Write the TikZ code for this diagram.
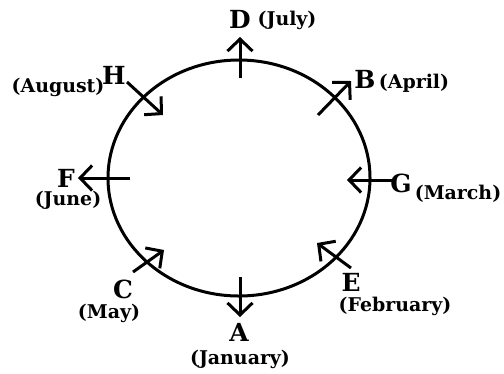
\documentclass[tikz,border=0pt]{standalone}
\usepackage{fontspec}
\setmainfont{DejaVu Serif}
\usetikzlibrary{arrows.meta,shapes.geometric}

\begin{document}
\begin{tikzpicture}[x=1bp, y=-1bp, line width=3bp,
    >={Straight Barb[length=12bp, width=25bp]},
    person/.style={inner sep=0pt,
                   font=\fontsize{25}{25}\selectfont\bfseries},
    month/.style={inner sep=0pt,
                  font=\fontsize{19}{20}\selectfont\bfseries}]

  \useasboundingbox (0,0) rectangle (504,373);

  %% Circle
  \node[draw, ellipse, inner sep=0pt, line width=3bp,
        minimum width=262bp, minimum height=236bp] (ring) at (239,178) {};

  %% Arrow ends
  \coordinate (d0) at (240,78);  \coordinate (d1) at (240,37);
  \coordinate (h0) at (127,82);  \coordinate (h1) at (163,115);
  \coordinate (b0) at (318,115); \coordinate (b1) at (351,81);
  \coordinate (g0) at (396,180); \coordinate (g1) at (347,180);
  \coordinate (f0) at (130,178); \coordinate (f1) at (78,178);
  \coordinate (c0) at (133,272); \coordinate (c1) at (164,250);
  \coordinate (a0) at (240,277); \coordinate (a1) at (240,317);
  \coordinate (e0) at (351,268); \coordinate (e1) at (317,243);

  %% Arrows
  \draw[->] (d0) -- (d1);
  \draw[->] (h0) -- (h1);
  \draw[->] (b0) -- (b1);
  \draw[->] (g0) -- (g1);
  \draw[->] (f0) -- (f1);
  \draw[->] (c0) -- (c1);
  \draw[->] (a0) -- (a1);
  \draw[->] (e0) -- (e1);

  %% Persons
  \node[person] (pD) at (240,19)  {D};
  \node[person] (pH) at (114,75)  {H};
  \node[person] (pB) at (365,79)  {B};
  \node[person] (pG) at (401,183) {G};
  \node[person] (pF) at (66,178)  {F};
  \node[person] (pC) at (123,289) {C};
  \node[person] (pA) at (239,332) {A};
  \node[person] (pE) at (351,282) {E};

  %% Months
  \node[month] (mD) at (287,20)  {(July)};
  \node[month] (mH) at (58,87)   {(August)};
  \node[month] (mB) at (414,83)  {(April)};
  \node[month] (mG) at (458,194) {(March)};
  \node[month] (mF) at (68,200)  {(June)};
  \node[month] (mC) at (109,313) {(May)};
  \node[month] (mA) at (240,359) {(January)};
  \node[month] (mE) at (395,306) {(February)};
\end{tikzpicture}
\end{document}
